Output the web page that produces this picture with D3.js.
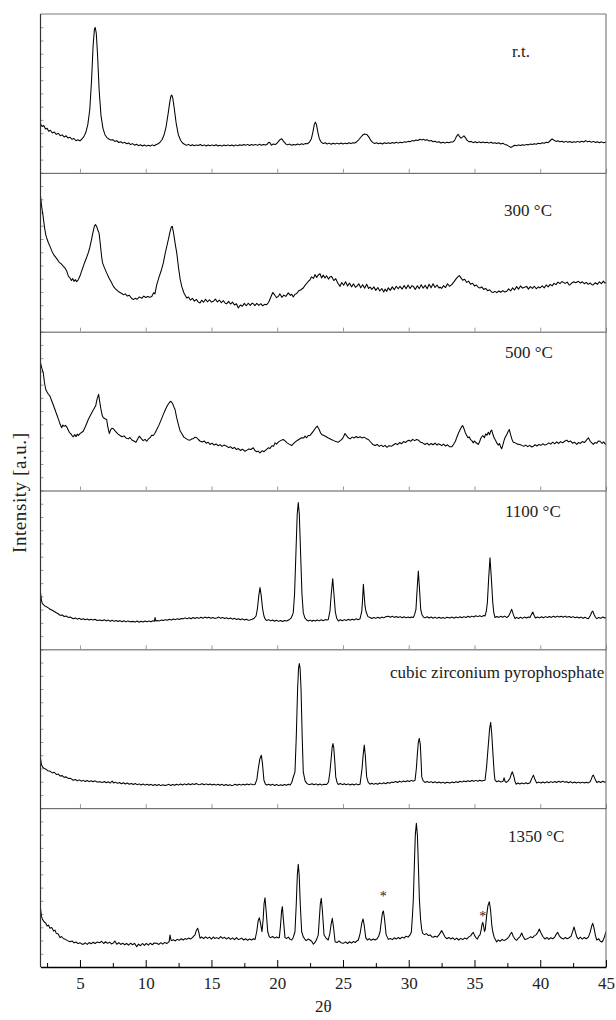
<!DOCTYPE html>
<html lang="en">
<head>
  <meta charset="UTF-8">
  <title>XRD patterns</title>
  <style>
    body { margin: 0; background: #fff; }
    svg { display: block; }
    svg text { font-family: "Liberation Serif", "DejaVu Serif", serif; fill: #222; }
  </style>
  <script src="https://d3js.org/d3.v7.min.js"></script>
</head>
<body>
  <svg id="chart" width="616" height="1020"></svg>
  <script>
    // panel captions, top to bottom
    const panelNames = ['r.t.', '300 °C', '500 °C', '1100 °C', 'cubic zirconium pyrophosphate', '1350 °C'];
    // caption anchor per panel, in [2θ, intensity] units
    const labelSpots = [[37.86, 73], [37.25, 72.6], [37.32, 83.6], [37.32, 83.1], [28.58, 81.9], [37.55, 78.9]];
    // "*" markers on the 1350 °C pattern
    const asterisks = [[28.07, 46.4], [35.63, 33.8]];
    const xMajor = [5, 10, 15, 20, 25, 30, 35, 40, 45];
    const xMinor = [2.5, 7.5, 12.5, 17.5, 22.5, 27.5, 32.5, 37.5, 42.5];

    // [2θ, intensity a.u.]
    const rtPattern = [[2.0,30.9],[2.12,29.2],[2.25,29.8],[2.38,27.6],[2.5,28.1],[2.62,26.2],[2.75,26.8],[2.9,25.1],[3.05,25.7],[3.2,24.2],[3.35,24.9],[3.5,23.4],[3.65,23.9],[3.8,22.6],[3.95,23.3],[4.1,21.9],[4.25,22.4],[4.4,21.1],[4.55,21.6],[4.7,20.2],[4.85,20.8],[5.0,20.1],[5.15,21.3],[5.3,22.8],[5.45,25.5],[5.6,30.5],[5.75,40],[5.88,58],[6.0,80],[6.1,90.5],[6.16,91.5],[6.24,88],[6.34,74],[6.46,52],[6.6,36],[6.75,28],[6.9,24],[7.05,22.2],[7.2,21.3],[7.35,20.6],[7.5,20.9],[7.65,19.8],[7.8,20.2],[7.95,19.1],[8.1,19.6],[8.25,18.7],[8.4,19.2],[8.55,18.3],[8.7,18.8],[8.85,17.8],[9.0,18.4],[9.15,17.4],[9.3,18.0],[9.45,17.1],[9.6,17.7],[9.75,16.9],[9.9,17.5],[10.05,16.8],[10.2,17.4],[10.35,16.9],[10.5,17.6],[10.65,17.1],[10.8,17.8],[10.95,18.3],[11.1,19.4],[11.25,21],[11.4,24],[11.55,29],[11.7,37],[11.82,44],[11.92,48.5],[11.98,49],[12.06,47],[12.18,40],[12.32,31],[12.48,24],[12.65,20.5],[12.8,18.8],[12.95,18],[13.1,17.3],[13.25,17.9],[13.4,17.1],[13.55,17.7],[13.7,17.0],[13.85,17.6],[14.0,17.2],[14.15,17.8],[14.3,17.1],[14.45,17.6],[14.6,16.9],[14.75,17.5],[14.9,17.0],[15.05,17.6],[15.2,17.1],[15.35,17.7],[15.5,16.9],[15.65,17.4],[15.8,16.8],[15.95,17.5],[16.1,17.0],[16.25,17.6],[16.4,17.0],[16.55,17.5],[16.7,16.9],[16.85,17.6],[17.0,17.1],[17.15,17.7],[17.3,17.2],[17.45,17.8],[17.6,17.3],[17.75,17.9],[17.9,17.2],[18.05,17.8],[18.2,17.4],[18.35,17.9],[18.5,17.3],[18.65,18.0],[18.8,17.4],[18.95,17.9],[19.1,17.5],[19.25,18.1],[19.35,19.3],[19.45,18.9],[19.55,17.4],[19.7,18.2],[19.85,17.8],[19.98,18.6],[20.1,19.8],[20.25,21.2],[20.35,21.4],[20.5,19.6],[20.65,18.2],[20.8,17.6],[20.95,18.1],[21.1,17.4],[21.25,17.9],[21.4,17.5],[21.55,18.2],[21.7,17.6],[21.85,18.3],[22.0,17.9],[22.15,18.5],[22.3,18.3],[22.45,19.3],[22.6,21.5],[22.72,26],[22.82,30.5],[22.9,31.9],[22.98,30.5],[23.08,26],[23.2,21.5],[23.35,19.2],[23.5,18.5],[23.65,18.9],[23.8,18.2],[23.95,18.7],[24.1,18.0],[24.25,18.6],[24.4,18.1],[24.55,18.7],[24.7,18.2],[24.85,18.8],[25.0,18.2],[25.15,18.7],[25.3,18.3],[25.45,18.9],[25.6,18.4],[25.75,19.0],[25.9,18.8],[26.05,19.6],[26.2,20.8],[26.35,22.4],[26.5,23.8],[26.65,24.5],[26.8,24.2],[26.95,22.8],[27.1,20.6],[27.25,19.2],[27.4,18.5],[27.55,18.9],[27.7,18.3],[27.85,18.8],[28.0,18.2],[28.15,18.9],[28.3,18.4],[28.45,18.9],[28.6,18.5],[28.75,19.1],[28.9,18.6],[29.05,19.2],[29.2,18.7],[29.35,19.3],[29.5,18.9],[29.65,19.5],[29.8,19.2],[29.95,19.8],[30.1,19.6],[30.25,20.3],[30.4,20.1],[30.55,20.7],[30.7,20.4],[30.85,21.1],[31.0,20.6],[31.1,21.2],[31.25,20.5],[31.4,20.9],[31.55,20.0],[31.7,20.4],[31.85,19.6],[32.0,19.9],[32.15,19.2],[32.3,19.6],[32.45,18.8],[32.6,19.3],[32.75,18.7],[32.9,19.2],[33.05,18.9],[33.2,19.4],[33.35,19.4],[33.5,20.6],[33.62,22.8],[33.75,24.3],[33.88,22.6],[33.98,21.8],[34.1,22.6],[34.2,23.3],[34.32,22.0],[34.45,20.4],[34.6,19.5],[34.75,19.8],[34.9,19.0],[35.05,19.6],[35.2,18.9],[35.35,19.5],[35.5,19.0],[35.65,19.4],[35.8,18.9],[35.95,19.3],[36.1,18.7],[36.25,19.2],[36.4,18.6],[36.55,19.0],[36.7,18.5],[36.85,18.9],[37.0,18.2],[37.15,18.6],[37.3,17.9],[37.45,17.6],[37.6,16.8],[37.75,16.0],[37.9,16.6],[38.05,17.4],[38.2,17.1],[38.35,17.6],[38.5,17.2],[38.65,17.7],[38.8,17.3],[38.95,17.9],[39.1,17.6],[39.25,18.1],[39.4,17.8],[39.55,18.3],[39.7,18.0],[39.85,18.6],[40.0,18.3],[40.15,18.9],[40.3,18.6],[40.45,19.2],[40.6,19.0],[40.75,20.2],[40.9,21.4],[41.05,20.5],[41.2,19.8],[41.35,20.2],[41.5,19.5],[41.65,19.9],[41.8,19.3],[41.95,19.8],[42.1,19.2],[42.25,19.7],[42.4,19.1],[42.55,19.6],[42.7,19.2],[42.85,19.8],[43.0,19.3],[43.15,19.9],[43.3,19.4],[43.45,20.3],[43.6,19.5],[43.75,19.9],[43.9,19.2],[44.05,19.8],[44.2,19.1],[44.35,19.6],[44.5,19.0],[44.65,19.5],[44.8,18.9],[45.0,19.3]];

    const p300Pattern = [[2.0,85.2],[2.1,78],[2.2,72.6],[2.3,66],[2.4,61],[2.47,59],[2.6,56],[2.72,53.7],[2.85,51],[3.0,48.5],[3.1,47.4],[3.25,45.8],[3.4,44],[3.48,43.3],[3.6,42.5],[3.75,41],[3.86,40.1],[4.0,38],[4.12,35],[4.24,33.8],[4.35,32.2],[4.45,33.4],[4.55,31.7],[4.65,32.8],[4.75,31.5],[4.87,32.7],[5.0,35],[5.12,38],[5.25,41.1],[5.4,44.5],[5.52,47],[5.63,49.6],[5.75,53],[5.88,58],[6.0,63],[6.1,66.5],[6.18,67.4],[6.28,66],[6.38,63.5],[6.45,62.2],[6.55,55],[6.65,47],[6.72,43.3],[6.85,40.5],[7.03,37],[7.2,34],[7.4,31],[7.54,28.5],[7.7,27],[7.85,25.8],[8.0,24.8],[8.15,24.2],[8.3,23.3],[8.45,23.8],[8.6,22.4],[8.75,22.9],[8.9,21.2],[9.06,20.2],[9.2,21],[9.35,20.4],[9.5,21.8],[9.57,21.6],[9.7,21],[9.85,22.4],[10.0,21.5],[10.15,22.1],[10.3,21.6],[10.46,22.2],[10.6,24.5],[10.7,23.8],[10.84,29.6],[11.0,34],[11.2,39],[11.34,43.3],[11.5,50],[11.65,55.5],[11.72,57.9],[11.85,63],[11.95,66],[12.02,66.3],[12.12,62],[12.25,55],[12.36,49.6],[12.5,40],[12.62,33],[12.74,28.5],[12.9,24.5],[13.0,23],[13.12,21.2],[13.25,21.8],[13.4,19.9],[13.55,21.0],[13.7,19.2],[13.85,20.3],[14.0,18.6],[14.13,18.1],[14.25,19.8],[14.4,18.5],[14.55,20.4],[14.7,18.8],[14.85,20.1],[15.0,18.6],[15.14,19.1],[15.3,20.5],[15.45,18.7],[15.6,19.9],[15.75,18.2],[15.9,19.6],[16.05,17.9],[16.16,17.6],[16.3,19.1],[16.45,17.4],[16.6,18.6],[16.75,16.8],[16.9,17.6],[17.04,14.9],[17.2,16.8],[17.35,16.0],[17.5,17.8],[17.65,16.3],[17.8,17.9],[17.95,16.5],[18.1,18.0],[18.18,17.6],[18.3,16.4],[18.45,17.8],[18.6,16.5],[18.75,17.6],[18.9,16.3],[19.05,17.2],[19.2,17.0],[19.35,18.5],[19.5,21.5],[19.66,24.7],[19.8,23.2],[19.95,21.4],[20.08,22.2],[20.2,23.8],[20.35,21.6],[20.5,23],[20.65,22.2],[20.84,24.4],[21.0,22.8],[21.1,23.6],[21.22,21.8],[21.35,23.5],[21.5,24.2],[21.65,25.8],[21.8,26.4],[21.98,27.5],[22.1,29],[22.25,30.5],[22.4,32],[22.5,32.7],[22.6,34.5],[22.75,33.5],[22.87,35.9],[23.0,34.2],[23.1,35.5],[23.25,36.5],[23.38,33.8],[23.5,35.6],[23.63,33.8],[23.75,35.2],[23.9,33.1],[24.02,34.6],[24.14,34.8],[24.3,32.2],[24.45,33.4],[24.6,30.6],[24.78,28.5],[24.9,31.0],[25.05,29.2],[25.2,31.4],[25.35,28.8],[25.5,30.6],[25.65,28.2],[25.8,30.1],[25.95,27.9],[26.05,28.5],[26.2,30.2],[26.35,27.6],[26.5,29.6],[26.65,27.4],[26.8,29.8],[26.95,27.2],[27.06,28.1],[27.2,26.6],[27.35,28.2],[27.5,26.0],[27.65,27.8],[27.8,25.6],[27.95,27.2],[28.1,25.0],[28.2,26.8],[28.33,25.4],[28.45,27.6],[28.6,26.0],[28.75,28.2],[28.9,26.4],[29.05,28.6],[29.2,27.0],[29.34,28.5],[29.5,26.8],[29.65,29.1],[29.8,27.0],[29.95,29.4],[30.1,27.2],[30.25,29.0],[30.35,28.5],[30.5,26.6],[30.65,28.9],[30.8,27.1],[30.95,29.6],[31.1,27.4],[31.25,29.2],[31.4,27.0],[31.55,29.8],[31.7,27.6],[31.85,30.1],[32.0,27.8],[32.15,29.4],[32.3,27.5],[32.38,28.1],[32.5,27.2],[32.65,29.0],[32.8,27.8],[32.95,30.2],[33.1,28.6],[33.27,29.6],[33.45,31.5],[33.6,33.2],[33.75,34.6],[33.85,35.3],[33.95,34.2],[34.1,32.4],[34.25,33.0],[34.41,31.0],[34.55,31.8],[34.7,29.9],[34.85,30.5],[35.0,28.8],[35.15,29.4],[35.3,27.8],[35.42,27.5],[35.55,28.2],[35.7,26.6],[35.85,27.2],[36.0,25.8],[36.15,26.4],[36.3,25.0],[36.43,24.7],[36.55,25.4],[36.7,24.6],[36.85,25.6],[37.0,24.8],[37.15,25.8],[37.3,25.0],[37.45,25.4],[37.6,27.0],[37.75,25.6],[37.9,27.6],[38.05,26.2],[38.2,28.4],[38.35,26.8],[38.5,28.8],[38.65,27.4],[38.8,28.0],[38.97,28.5],[39.1,26.8],[39.25,28.4],[39.4,27.2],[39.55,28.6],[39.7,27.0],[39.85,28.2],[39.98,27.5],[40.15,28.8],[40.3,27.6],[40.45,29.4],[40.6,28.2],[40.75,29.8],[40.9,28.8],[41.05,30.4],[41.2,29.6],[41.35,31.2],[41.5,30.2],[41.65,31.6],[41.76,31.0],[41.9,30.4],[42.05,31.2],[42.2,29.4],[42.27,29.6],[42.4,30.6],[42.55,31.4],[42.7,30.8],[42.9,31.7],[43.05,30.6],[43.2,31.4],[43.35,30.2],[43.5,31.0],[43.65,29.8],[43.8,30.6],[43.95,29.4],[44.04,29.6],[44.2,30.8],[44.35,29.8],[44.5,31.4],[44.65,30.2],[44.8,31.8],[44.9,30.6],[45.0,31.0]];

    const p500Pattern = [[2.0,80.4],[2.1,77],[2.21,74.1],[2.3,68],[2.4,63.6],[2.5,62],[2.6,60.6],[2.72,59.4],[2.85,56.5],[3.0,53.2],[3.1,51],[3.2,48.6],[3.3,46.4],[3.4,44],[3.5,41.5],[3.61,39.5],[3.7,41.2],[3.8,40.4],[3.9,41.0],[3.99,40.1],[4.1,38.2],[4.2,36.5],[4.3,35.8],[4.4,34.6],[4.49,33.8],[4.6,35.2],[4.7,33.9],[4.8,35.5],[4.87,34.6],[5.0,35.8],[5.12,36.5],[5.25,37.3],[5.4,40],[5.55,43],[5.65,45],[5.76,46.8],[5.9,49],[6.0,50.5],[6.1,52],[6.2,53.5],[6.3,57.5],[6.42,60.5],[6.5,56],[6.6,51],[6.7,47],[6.78,45.8],[6.9,45.2],[7.03,44.7],[7.12,40],[7.23,35.9],[7.35,38.5],[7.45,39.2],[7.54,38.9],[7.7,37.2],[7.9,35.5],[8.05,34.6],[8.2,33.8],[8.35,34.4],[8.5,33.1],[8.68,32.5],[8.8,33.4],[8.95,31.8],[9.1,31.2],[9.26,30.4],[9.4,32.6],[9.51,34.2],[9.65,32.8],[9.8,31.4],[9.95,32.2],[10.08,31.0],[10.2,32.4],[10.35,33.4],[10.45,34.8],[10.58,34.6],[10.7,36],[10.85,38.5],[11.0,41],[11.15,44],[11.34,47.9],[11.5,51],[11.65,53.5],[11.8,55.4],[11.92,56.2],[12.05,54.6],[12.15,52.5],[12.23,51],[12.35,46],[12.5,41],[12.62,37.5],[12.74,35.9],[12.9,33.6],[13.05,32.8],[13.2,32.0],[13.37,31.7],[13.5,32.4],[13.65,32.8],[13.75,33.6],[13.88,33.2],[14.0,32.1],[14.15,31.0],[14.3,30.5],[14.45,31.2],[14.6,29.8],[14.75,30.4],[14.89,29.0],[15.05,29.8],[15.2,28.6],[15.35,29.3],[15.5,28.2],[15.65,28.9],[15.8,27.8],[15.95,28.6],[16.16,27.9],[16.3,27.0],[16.45,27.6],[16.6,26.4],[16.75,27.1],[16.9,25.8],[17.05,26.4],[17.2,25.2],[17.35,26.0],[17.55,24.7],[17.7,25.4],[17.85,26.2],[18.0,25.8],[18.18,26.9],[18.3,25.2],[18.45,24.4],[18.55,24.8],[18.69,23.7],[18.85,25.0],[19.0,24.4],[19.15,25.6],[19.32,26.9],[19.45,26.4],[19.6,28.2],[19.72,27.8],[19.83,30.0],[19.95,29.2],[20.1,30.6],[20.25,31.4],[20.46,32.1],[20.6,31.2],[20.75,30.0],[20.9,29.2],[21.1,28.3],[21.25,29.6],[21.4,30.8],[21.55,31.6],[21.7,32.4],[21.86,33.2],[22.0,33.0],[22.12,34.2],[22.24,33.2],[22.36,34.6],[22.49,34.6],[22.6,35.8],[22.75,37.4],[22.9,39.2],[23.05,40.5],[23.18,38.6],[23.3,36.2],[23.38,35.3],[23.55,34.6],[23.7,34.0],[23.85,33.2],[24.0,32.6],[24.15,32.0],[24.3,31.4],[24.45,30.9],[24.65,30.4],[24.8,31.4],[24.95,32.5],[25.05,34.0],[25.15,35.9],[25.3,34.2],[25.42,33.0],[25.54,32.5],[25.7,33.6],[25.85,33.0],[26.0,34.0],[26.15,33.2],[26.3,33.8],[26.45,33.0],[26.6,33.6],[26.75,32.8],[26.93,32.1],[27.05,31.0],[27.2,29.6],[27.3,28.8],[27.44,28.3],[27.6,29.0],[27.75,27.8],[27.9,28.6],[28.05,27.6],[28.2,28.4],[28.35,27.2],[28.5,28.2],[28.71,27.9],[28.85,28.8],[29.0,29.6],[29.15,28.9],[29.3,30.2],[29.45,29.4],[29.6,30.8],[29.75,30.2],[29.85,31.0],[30.0,31.6],[30.15,31.0],[30.3,32.2],[30.45,31.4],[30.6,32.1],[30.75,31.6],[30.9,30.4],[31.05,30.0],[31.24,29.0],[31.4,29.8],[31.55,28.6],[31.7,29.6],[31.85,28.8],[32.0,29.8],[32.15,28.6],[32.25,29.4],[32.38,29.0],[32.5,28.2],[32.65,29.2],[32.8,28.0],[32.95,28.8],[33.1,27.6],[33.27,27.5],[33.4,29.0],[33.55,31.0],[33.65,33.4],[33.77,35.9],[33.9,38.2],[34.02,40.2],[34.1,40.9],[34.2,39.0],[34.3,36.4],[34.41,34.6],[34.5,33.2],[34.6,33.8],[34.7,32.0],[34.8,31.4],[34.91,30.0],[35.0,31.2],[35.1,30.2],[35.2,29.6],[35.29,29.0],[35.4,31.0],[35.5,33.2],[35.63,34.6],[35.75,33.2],[35.85,35.6],[35.95,34.8],[36.05,36.7],[36.15,35.2],[36.22,37.2],[36.31,38.0],[36.4,35.4],[36.5,33.0],[36.6,31.6],[36.69,30.0],[36.8,28.6],[36.9,29.6],[37.0,27.2],[37.07,26.3],[37.15,28.4],[37.25,31.6],[37.32,33.2],[37.45,35.2],[37.55,37.0],[37.65,38.4],[37.75,35.0],[37.85,32.2],[37.95,30.4],[38.1,30.0],[38.25,29.2],[38.46,29.0],[38.6,28.4],[38.75,27.8],[38.9,28.6],[39.05,27.6],[39.2,28.4],[39.35,27.4],[39.48,27.9],[39.6,28.8],[39.75,28.0],[39.9,29.0],[40.05,28.4],[40.2,29.4],[40.35,28.6],[40.49,29.0],[40.65,30.0],[40.8,29.2],[40.95,30.4],[41.1,29.4],[41.25,30.6],[41.4,29.6],[41.55,30.8],[41.7,30.0],[41.85,31.0],[42.02,31.7],[42.15,30.6],[42.3,31.2],[42.45,29.8],[42.6,30.4],[42.78,29.0],[42.9,30.2],[43.05,29.6],[43.2,30.8],[43.35,30.2],[43.5,31.6],[43.66,33.2],[43.8,31.0],[43.92,30.0],[44.04,29.0],[44.15,30.2],[44.3,29.8],[44.42,31.2],[44.55,31.0],[44.7,29.6],[44.82,30.6],[44.92,29.4],[45.0,29.0]];

    const p1100Pattern = [[2.0,35.7],[2.07,31],[2.13,29],[2.2,28.3],[2.35,27.2],[2.5,26.6],[2.65,25.8],[2.72,25.2],[2.9,24.6],[3.05,23.8],[3.2,23.0],[3.35,22.4],[3.48,21.4],[3.65,21.6],[3.8,20.7],[3.95,21.0],[4.1,20.1],[4.25,20.4],[4.49,19.3],[4.65,19.8],[4.8,19.0],[4.95,19.5],[5.1,18.8],[5.25,19.3],[5.4,18.6],[5.55,19.1],[5.7,18.5],[5.85,19.0],[6.0,18.4],[6.15,18.9],[6.3,18.2],[6.52,18.5],[6.7,18.0],[6.85,18.6],[7.0,17.9],[7.15,18.4],[7.3,17.7],[7.45,18.3],[7.6,17.6],[7.75,18.2],[7.9,17.5],[8.05,18.1],[8.2,17.4],[8.35,18.0],[8.5,17.3],[8.65,17.9],[8.8,17.4],[9.06,17.6],[9.2,17.2],[9.35,17.8],[9.5,17.1],[9.65,17.7],[9.8,17.2],[9.95,17.8],[10.1,17.3],[10.25,17.9],[10.4,17.4],[10.55,18.0],[10.65,17.6],[10.71,20.0],[10.77,17.8],[10.9,18.2],[11.05,17.9],[11.2,18.5],[11.35,18.1],[11.5,18.7],[11.65,18.3],[11.8,18.9],[11.95,18.5],[12.1,19.1],[12.25,18.7],[12.4,19.2],[12.55,18.8],[12.7,19.4],[12.86,19.3],[13.0,19.8],[13.15,19.2],[13.3,19.9],[13.45,19.3],[13.6,20.0],[13.75,19.4],[13.9,20.1],[14.05,19.5],[14.2,20.2],[14.35,19.6],[14.5,20.3],[14.65,19.7],[14.8,20.2],[14.95,19.6],[15.1,20.1],[15.25,19.5],[15.4,19.7],[15.55,20.3],[15.7,19.6],[15.85,20.1],[16.0,19.4],[16.15,19.9],[16.3,19.2],[16.45,19.7],[16.6,19.0],[16.75,19.5],[16.9,18.8],[17.05,19.3],[17.2,18.6],[17.35,19.2],[17.5,18.5],[17.65,19.0],[17.8,18.3],[17.93,18.5],[18.1,18.9],[18.25,19.6],[18.39,21.0],[18.5,26],[18.6,34],[18.69,38.9],[18.78,34],[18.88,26],[18.99,21],[19.1,18.8],[19.2,18.1],[19.35,18.7],[19.5,17.9],[19.65,18.5],[19.8,17.7],[19.95,18.3],[20.1,17.6],[20.25,18.2],[20.4,17.5],[20.55,18.1],[20.72,17.8],[20.9,18.6],[21.05,19.6],[21.15,21.4],[21.22,23.1],[21.32,35],[21.42,60],[21.52,85],[21.6,92.4],[21.68,85],[21.78,60],[21.88,35],[21.98,23.1],[22.1,19.8],[22.22,18.6],[22.36,17.8],[22.5,18.4],[22.65,17.7],[22.74,18.3],[22.9,17.8],[23.05,18.5],[23.2,17.9],[23.35,18.6],[23.5,18.0],[23.65,18.7],[23.8,18.4],[23.88,18.7],[24.01,24.1],[24.1,34],[24.22,44.5],[24.32,34],[24.42,23.5],[24.52,19.6],[24.65,17.8],[24.8,18.6],[24.95,18.0],[25.1,18.7],[25.25,18.1],[25.4,18.9],[25.55,18.3],[25.7,19.0],[25.85,18.5],[26.0,19.2],[26.15,18.6],[26.3,19.3],[26.43,24.1],[26.48,30],[26.55,40.9],[26.63,32],[26.68,27],[26.76,23.5],[26.9,20.6],[27.06,20.0],[27.2,19.4],[27.35,20.1],[27.5,19.5],[27.65,20.2],[27.8,19.6],[27.95,20.3],[28.1,19.8],[28.25,20.5],[28.45,20.8],[28.6,20.2],[28.75,20.8],[28.9,20.1],[29.05,20.7],[29.2,20.0],[29.35,20.6],[29.5,19.9],[29.65,20.5],[29.8,19.8],[29.95,20.4],[30.1,19.9],[30.2,20.3],[30.35,20.0],[30.45,22],[30.55,25.2],[30.64,38],[30.73,49.3],[30.82,38],[30.91,25.2],[31.0,22],[31.11,20.4],[31.25,19.8],[31.4,20.5],[31.55,19.7],[31.7,20.4],[31.85,19.6],[32.0,20.3],[32.15,19.5],[32.3,20.2],[32.45,19.6],[32.6,20.1],[32.75,19.5],[32.9,20.2],[33.14,19.7],[33.3,20.3],[33.45,19.6],[33.6,20.4],[33.75,19.8],[33.9,20.5],[34.05,19.9],[34.2,20.6],[34.35,20.0],[34.5,20.8],[34.65,20.2],[34.8,20.9],[34.95,20.4],[35.1,21.1],[35.25,20.6],[35.4,21.2],[35.55,20.6],[35.7,21.3],[35.8,21.0],[35.9,24],[35.98,29.4],[36.08,45],[36.18,57.7],[36.28,45],[36.39,29.4],[36.47,23],[36.56,20.0],[36.7,20.7],[36.85,20.1],[37.0,20.8],[37.15,20.2],[37.3,20.9],[37.45,20.0],[37.6,21.0],[37.72,23],[37.83,25.2],[37.95,22],[38.08,19.3],[38.2,20.1],[38.35,19.4],[38.5,20.2],[38.65,19.5],[38.8,20.3],[38.95,19.7],[39.1,20.4],[39.22,20.0],[39.33,22],[39.43,23.5],[39.53,21.5],[39.63,19.7],[39.8,20.4],[39.95,19.8],[40.1,20.5],[40.25,19.9],[40.4,20.6],[40.55,20.0],[40.7,20.7],[40.85,20.1],[41.0,20.8],[41.15,20.2],[41.3,20.9],[41.45,20.3],[41.6,20.8],[41.75,20.2],[41.9,20.9],[42.02,20.2],[42.2,20.7],[42.35,20.0],[42.5,20.6],[42.65,19.9],[42.8,20.4],[42.95,19.7],[43.1,20.3],[43.25,19.6],[43.4,20.2],[43.55,19.5],[43.66,19.3],[43.82,21.5],[43.92,23.5],[43.99,24.1],[44.1,21.8],[44.2,20.2],[44.3,19.3],[44.45,20.1],[44.6,19.5],[44.75,20.4],[44.9,19.7],[45.0,20.0]];

    const cubicPattern = [[2.0,31.3],[2.07,27.5],[2.15,26],[2.27,25],[2.4,24.6],[2.55,23.6],[2.72,23.3],[2.9,22.2],[3.05,22.6],[3.2,21.2],[3.35,21.5],[3.48,20.3],[3.65,20.5],[3.8,19.4],[3.95,19.7],[4.1,18.7],[4.25,18.9],[4.49,17.6],[4.65,18.1],[4.8,17.2],[4.95,17.8],[5.1,17.0],[5.25,17.5],[5.4,16.8],[5.55,17.4],[5.7,16.7],[5.85,17.3],[6.0,16.6],[6.15,17.2],[6.3,16.5],[6.52,16.6],[6.7,16.1],[6.85,16.8],[7.0,16.0],[7.15,16.6],[7.3,15.8],[7.45,17.1],[7.55,15.9],[7.7,16.4],[7.85,15.6],[8.0,16.2],[8.15,15.4],[8.3,16.0],[8.45,15.2],[8.6,15.8],[8.75,15.1],[8.9,15.6],[9.06,14.9],[9.2,15.5],[9.35,14.8],[9.5,15.3],[9.65,14.6],[9.8,15.2],[9.95,14.5],[10.1,15.1],[10.25,14.4],[10.4,15.0],[10.55,14.3],[10.7,14.9],[10.85,14.3],[11.0,14.9],[11.15,14.2],[11.3,14.8],[11.45,14.3],[11.6,14.5],[11.75,15.0],[11.9,14.3],[12.05,14.9],[12.2,14.4],[12.35,15.1],[12.5,14.5],[12.65,15.2],[12.8,14.6],[12.95,15.3],[13.1,14.7],[13.25,15.4],[13.4,14.8],[13.55,15.4],[13.7,14.9],[13.85,15.5],[14.0,14.8],[14.13,14.9],[14.3,15.4],[14.45,14.8],[14.6,15.3],[14.75,14.7],[14.9,15.2],[15.05,14.6],[15.2,15.1],[15.35,14.5],[15.5,15.0],[15.65,14.4],[15.8,15.0],[15.95,14.3],[16.1,14.9],[16.25,14.3],[16.4,14.8],[16.55,14.2],[16.66,14.5],[16.8,15.1],[16.95,14.4],[17.1,15.0],[17.25,14.5],[17.4,15.1],[17.55,14.6],[17.7,15.2],[17.85,14.7],[18.0,15.3],[18.15,14.8],[18.31,14.9],[18.45,18],[18.56,25],[18.68,31],[18.79,33.4],[18.88,28],[18.99,17.6],[19.1,15.2],[19.2,14.5],[19.35,15.1],[19.5,14.4],[19.65,15.0],[19.8,14.3],[19.95,14.9],[20.1,14.2],[20.25,14.8],[20.4,14.3],[20.55,14.9],[20.7,14.4],[20.85,15.0],[20.97,14.5],[21.1,16],[21.2,19],[21.35,22.9],[21.45,45],[21.55,75],[21.62,88],[21.68,91.1],[21.74,88],[21.81,75],[21.9,45],[21.98,22.9],[22.12,17.2],[22.25,15.6],[22.36,15.1],[22.49,14.9],[22.65,15.4],[22.8,14.7],[22.95,15.3],[23.1,14.6],[23.25,15.2],[23.4,14.5],[23.55,15.1],[23.76,14.9],[23.9,16.5],[24.01,22.9],[24.1,31],[24.18,38.5],[24.24,40.7],[24.3,38],[24.38,29],[24.45,19.7],[24.55,16.2],[24.65,14.9],[24.8,15.5],[24.95,14.8],[25.1,15.4],[25.25,14.7],[25.4,15.3],[25.55,14.6],[25.7,15.2],[25.85,14.6],[26.0,15.3],[26.15,14.8],[26.3,15.1],[26.45,25],[26.54,34],[26.62,39.7],[26.7,33],[26.8,19.7],[26.92,16.2],[27.06,15.1],[27.2,15.7],[27.35,15.0],[27.5,15.6],[27.65,15.1],[27.8,15.8],[27.95,15.3],[28.1,16.0],[28.25,15.4],[28.4,16.2],[28.55,15.7],[28.7,16.4],[28.83,16.2],[29.0,16.8],[29.15,16.2],[29.3,16.9],[29.45,16.4],[29.6,17.1],[29.75,16.6],[29.9,17.3],[30.05,16.8],[30.2,17.5],[30.35,17.0],[30.48,17.6],[30.58,25],[30.65,33.4],[30.73,41.5],[30.8,43.9],[30.88,40],[30.95,28],[30.99,19.7],[31.1,17.2],[31.24,16.2],[31.4,16.8],[31.55,16.1],[31.7,16.7],[31.85,16.0],[32.0,16.6],[32.15,15.9],[32.3,16.5],[32.45,15.8],[32.6,16.4],[32.75,15.7],[32.9,16.3],[33.14,15.9],[33.3,16.5],[33.45,16.0],[33.6,16.7],[33.75,16.2],[33.9,16.9],[34.05,16.4],[34.2,17.1],[34.35,16.6],[34.5,17.3],[34.65,16.8],[34.8,17.4],[34.95,16.9],[35.1,17.5],[35.25,17.0],[35.4,17.6],[35.55,17.1],[35.7,17.4],[35.8,17.6],[35.92,26],[36.05,39.7],[36.15,50],[36.23,54],[36.31,47],[36.41,33.4],[36.5,22],[36.56,17.6],[36.7,16.6],[36.85,17.2],[37.0,16.5],[37.07,16.6],[37.17,17.0],[37.25,19.1],[37.32,16.8],[37.4,16.2],[37.55,17.0],[37.7,18.8],[37.8,21.5],[37.88,22.9],[37.98,20.4],[38.08,16.8],[38.16,15.1],[38.3,15.8],[38.45,15.2],[38.6,15.9],[38.75,15.3],[38.9,16.0],[39.05,15.4],[39.22,16.0],[39.35,18.6],[39.48,20.8],[39.6,18.0],[39.73,15.9],[39.9,16.4],[40.05,15.8],[40.2,16.5],[40.35,15.9],[40.5,16.6],[40.65,16.0],[40.8,16.7],[40.95,16.1],[41.1,16.8],[41.25,16.2],[41.4,16.9],[41.55,16.3],[41.7,16.9],[41.85,16.4],[42.02,16.6],[42.15,16.0],[42.3,16.6],[42.45,15.9],[42.6,16.5],[42.75,15.8],[42.9,16.4],[43.05,15.8],[43.2,16.4],[43.35,15.8],[43.5,16.3],[43.65,15.9],[43.79,16.6],[43.9,18.6],[43.97,20.3],[44.04,20.8],[44.15,18.6],[44.3,16.2],[44.45,16.8],[44.6,16.2],[44.75,16.9],[44.9,16.3],[45.0,16.6]];

    const p1350Pattern = [[2.0,37],[2.07,32],[2.15,30],[2.27,28.5],[2.4,27.6],[2.5,25.8],[2.6,26.4],[2.72,24.4],[2.85,24.8],[3.0,22.6],[3.1,23.2],[3.2,21.2],[3.35,20.8],[3.48,18.5],[3.6,19.2],[3.75,17.8],[3.9,17.4],[4.05,16.6],[4.24,15.9],[4.4,16.4],[4.55,15.2],[4.7,15.8],[4.85,14.7],[5.0,15.3],[5.15,14.4],[5.25,14.3],[5.4,15.2],[5.55,14.2],[5.7,15.4],[5.85,14.6],[6.0,15.6],[6.15,14.8],[6.3,15.7],[6.52,15.3],[6.65,16.2],[6.8,14.8],[6.95,15.9],[7.1,14.9],[7.25,15.6],[7.4,14.5],[7.55,15.2],[7.65,16.4],[7.8,14.3],[7.95,15.4],[8.1,14.2],[8.25,15.0],[8.4,14.0],[8.55,14.8],[8.7,13.8],[8.85,15.0],[9.0,14.0],[9.15,14.9],[9.32,12.8],[9.45,14.4],[9.6,13.4],[9.75,14.8],[9.9,13.6],[10.05,14.9],[10.2,13.8],[10.35,15.0],[10.5,14.0],[10.65,15.1],[10.84,14.9],[11.0,14.2],[11.15,15.3],[11.3,14.4],[11.45,15.5],[11.6,14.8],[11.72,15.5],[11.78,16.0],[11.85,20.2],[11.92,17.0],[11.98,16.6],[12.1,17.2],[12.25,16.4],[12.4,17.4],[12.55,16.8],[12.7,17.8],[12.85,17.0],[13.0,17.9],[13.12,17.4],[13.25,18.2],[13.4,17.6],[13.55,18.5],[13.65,19.4],[13.75,20.2],[13.85,23],[13.95,24.4],[14.05,21.5],[14.13,18.1],[14.25,18.9],[14.4,17.8],[14.55,19.0],[14.7,18.0],[14.85,18.8],[15.0,17.6],[15.15,18.9],[15.25,18.0],[15.4,18.5],[15.55,17.8],[15.7,19.1],[15.85,18.0],[16.0,18.7],[16.15,17.6],[16.3,18.6],[16.45,17.4],[16.6,18.3],[16.75,17.2],[16.9,18.5],[17.05,17.3],[17.17,17.6],[17.3,18.2],[17.45,17.0],[17.6,17.8],[17.75,16.8],[17.9,17.6],[18.05,17.0],[18.2,17.8],[18.31,17.3],[18.44,22.2],[18.55,29],[18.64,31],[18.74,27],[18.84,22.2],[18.93,30],[19.0,40],[19.07,43.6],[19.15,36],[19.28,22.2],[19.4,19.0],[19.5,18.5],[19.65,19.2],[19.8,18.2],[19.95,18.9],[20.05,18.4],[20.16,18.5],[20.25,26],[20.33,35],[20.39,38],[20.47,30],[20.59,18.5],[20.72,18.0],[20.85,18.8],[20.98,17.4],[21.1,17.0],[21.22,18.6],[21.35,22.2],[21.45,40],[21.53,58],[21.6,64.7],[21.67,58],[21.75,40],[21.86,22.2],[21.98,19.0],[22.1,17.6],[22.2,16.6],[22.35,17.6],[22.49,17.0],[22.62,16.2],[22.75,14.3],[22.9,15.8],[23.0,17.4],[23.12,20.2],[23.2,30],[23.28,40],[23.35,43.3],[23.43,36],[23.56,20.2],[23.7,18.4],[23.88,17.0],[24.0,21],[24.1,27],[24.19,30.7],[24.28,25],[24.4,15.9],[24.55,15.4],[24.7,16.4],[24.85,15.2],[25.03,14.9],[25.2,15.8],[25.35,14.8],[25.5,15.9],[25.65,15.0],[25.8,16.1],[25.95,15.4],[26.05,16.4],[26.17,17.0],[26.3,21],[26.35,23.5],[26.44,28],[26.53,30.2],[26.62,26],[26.73,18.5],[26.85,17.0],[27.0,17.8],[27.15,16.8],[27.3,17.6],[27.44,17.0],[27.6,17.8],[27.72,19.5],[27.82,22.2],[27.92,29],[28.0,34],[28.07,35.3],[28.15,31],[28.28,20.4],[28.45,17.4],[28.6,18.0],[28.75,17.2],[28.9,18.4],[29.05,17.6],[29.2,18.6],[29.34,17.8],[29.5,18.8],[29.65,18.2],[29.8,19.4],[29.95,18.8],[30.1,20.2],[30.2,22],[30.28,32],[30.35,42.7],[30.43,65],[30.5,83],[30.58,90.5],[30.66,83],[30.73,65],[30.81,42.7],[30.9,30],[30.98,24],[31.06,21.2],[31.2,20.4],[31.35,21.0],[31.5,19.8],[31.65,20.2],[31.75,19.0],[31.87,18.7],[32.0,19.4],[32.15,18.8],[32.3,20.2],[32.42,21.8],[32.5,22.9],[32.6,21.4],[32.75,19.0],[32.89,17.8],[33.05,18.6],[33.2,17.6],[33.35,18.4],[33.5,17.2],[33.65,18.2],[33.8,17.0],[33.95,18.0],[34.1,17.2],[34.25,18.2],[34.41,17.6],[34.55,18.8],[34.7,19.6],[34.82,21.0],[34.91,21.8],[35.02,19.6],[35.12,18.4],[35.22,17.6],[35.32,19.4],[35.42,20.2],[35.5,23],[35.58,27],[35.63,28.1],[35.7,25.5],[35.76,22.4],[35.82,23.6],[35.92,32],[36.02,38.5],[36.13,41.1],[36.22,36],[36.32,26],[36.39,22.2],[36.5,18.6],[36.6,17.2],[36.69,15.7],[36.8,17.0],[36.95,16.2],[37.1,17.4],[37.25,16.6],[37.45,17.6],[37.6,18.8],[37.72,20.6],[37.83,21.8],[37.95,19.2],[38.08,17.6],[38.2,16.8],[38.3,17.8],[38.45,19.0],[38.59,21.4],[38.7,19.2],[38.82,17.4],[38.97,17.6],[39.1,18.2],[39.25,19.0],[39.4,18.4],[39.55,19.6],[39.7,20.4],[39.85,22.4],[39.93,23.9],[40.05,21.6],[40.2,19.2],[40.37,17.6],[40.5,18.6],[40.65,17.4],[40.8,18.4],[40.95,17.8],[41.1,18.8],[41.2,20.4],[41.33,21.8],[41.45,19.6],[41.6,18.2],[41.76,17.6],[41.9,18.6],[42.05,17.8],[42.2,18.4],[42.35,19.4],[42.45,22.0],[42.57,25.2],[42.68,21.8],[42.78,19.0],[42.9,17.6],[43.05,18.8],[43.2,17.6],[43.35,18.6],[43.5,17.8],[43.66,18.8],[43.8,22.0],[43.92,26.0],[43.99,27.5],[44.08,25],[44.2,19.6],[44.3,17.0],[44.45,17.8],[44.55,16.4],[44.68,15.7],[44.78,16.8],[44.88,19.0],[44.95,20.8],[45.0,22.2]];

    const patterns = [rtPattern, p300Pattern, p500Pattern, p1100Pattern, cubicPattern, p1350Pattern];

    const serif = '"Liberation Serif", "DejaVu Serif", serif';
    const svg = d3.select('#chart').attr('font-family', serif);
    const plotLeft = 40.5, plotRight = 606, plotTop = 14, plotBottom = 967;
    const panelH = (plotBottom - plotTop) / patterns.length;

    const x = d3.scaleLinear().domain([2, 45]).range([plotLeft, plotRight]);

    patterns.forEach((data, i) => {
      const y0 = plotTop + i * panelH;
      const y = d3.scaleLinear().domain([0, 100]).range([y0 + panelH, y0]);
      const g = svg.append('g');

      g.append('clipPath').attr('id', 'clip' + i)
        .append('rect').attr('x', plotLeft).attr('y', y0).attr('width', plotRight - plotLeft).attr('height', panelH);

      // faint ticks on the left edge of every panel
      g.append('g')
        .attr('transform', `translate(${plotLeft},0)`)
        .call(d3.axisRight(y).tickValues(d3.range(0, 100, 100 / 12)).tickSize(3).tickFormat(''))
        .call(a => a.select('.domain').remove())
        .selectAll('line').attr('stroke', '#999');

      // panel separator (bottom edge) with small ticks, except the last one
      if (i < patterns.length - 1) {
        g.append('g')
          .attr('transform', `translate(0,${y0 + panelH})`)
          .call(d3.axisBottom(x).tickValues(xMajor).tickSizeInner(-4).tickSizeOuter(0).tickFormat(''))
          .call(a => a.select('.domain').attr('stroke', '#555'))
          .selectAll('line').attr('stroke', '#999');
      }

      const line = d3.line().x(d => x(d[0])).y(d => y(d[1]));
      g.append('path')
        .datum(data)
        .attr('clip-path', `url(#clip${i})`)
        .attr('fill', 'none')
        .attr('stroke', '#000')
        .attr('stroke-width', 1.05)
        .attr('stroke-linejoin', 'round')
        .attr('d', line);

      g.append('text')
        .attr('x', x(labelSpots[i][0]))
        .attr('y', y(labelSpots[i][1]))
        .style('font-size', '17px')
        .text(panelNames[i]);

      if (i === patterns.length - 1) {
        g.selectAll('.star')
          .data(asterisks)
          .join('text')
          .attr('class', 'star')
          .attr('x', d => x(d[0]))
          .attr('y', d => y(d[1]) + 8)
          .attr('text-anchor', 'middle')
          .style('font-size', '14px')
          .text('*');
      }
    });

    // outer frame: top and right in grey, left axis darker
    svg.append('line').attr('x1', plotLeft).attr('x2', plotRight).attr('y1', plotTop).attr('y2', plotTop).attr('stroke', '#777');
    svg.append('line').attr('x1', plotRight).attr('x2', plotRight).attr('y1', plotTop).attr('y2', plotBottom).attr('stroke', '#666');
    svg.append('line').attr('x1', plotLeft).attr('x2', plotLeft).attr('y1', plotTop).attr('y2', plotBottom).attr('stroke', '#333').attr('stroke-width', 1.2);

    // bottom axis
    const xAxis = svg.append('g').attr('transform', `translate(0,${plotBottom})`);
    xAxis.call(d3.axisBottom(x).tickValues(xMajor).tickSizeInner(-7).tickSizeOuter(0).tickPadding(10).tickFormat(d3.format('d')))
      .attr('font-family', serif)
      .attr('font-size', 17)
      .call(a => a.select('.domain').attr('stroke', '#000').attr('stroke-width', 1.3))
      .call(a => a.selectAll('text').attr('fill', '#222'));
    svg.append('g').attr('transform', `translate(0,${plotBottom})`)
      .call(d3.axisBottom(x).tickValues(xMinor).tickSizeInner(-4).tickSizeOuter(0).tickFormat(''))
      .call(a => a.select('.domain').remove());

    svg.append('text')
      .attr('x', (plotLeft + plotRight) / 2)
      .attr('y', 1012)
      .attr('text-anchor', 'middle')
      .style('font-size', '17px')
      .text('2θ');

    svg.append('text')
      .attr('transform', 'translate(26,493) rotate(-90)')
      .attr('text-anchor', 'middle')
      .style('font-size', '19px')
      .attr('textLength', 120)
      .text('Intensity [a.u.]');
  </script>
</body>
</html>
